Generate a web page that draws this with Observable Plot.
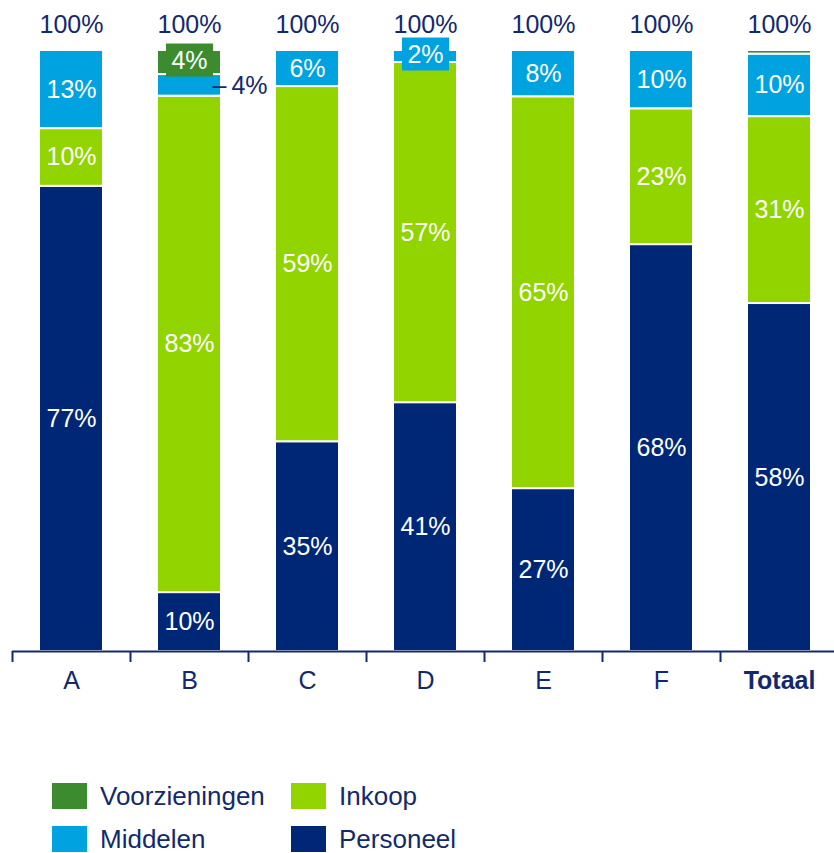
<!DOCTYPE html>
<html><head><meta charset="utf-8">
<script src="https://cdn.jsdelivr.net/npm/d3@7"></script>
<script src="https://cdn.jsdelivr.net/npm/@observablehq/plot@0.6"></script>
<style>
body{margin:0;background:#fff;font-family:"Liberation Sans",Arial,sans-serif;overflow:hidden}
#chart{position:relative;width:834px;height:853px;overflow:hidden}
.lg{position:absolute;display:flex;align-items:center;font-size:26px;line-height:26px;color:#12296e;white-space:nowrap}
.sw{display:inline-block;width:35px;height:26px;margin-right:13px}
</style></head><body><div id="chart"></div>
<script>
const categories = ["A","B","C","D","E","F","Totaal"];
const series = ["Personeel","Inkoop","Middelen","Voorzieningen"];
const personeel = [77.4, 9.8, 34.9, 41.4, 27.1, 67.7, 57.9];
const inkoop = [9.6, 82.6, 59.1, 56.6, 65.2, 22.6, 31.1];
const middelen = [13.0, 3.6, 6.0, 2.0, 7.7, 9.7, 10.4];
const voorzieningen = [0, 4.0, 0, 0, 0, 0, 0.6];
const totalLabels = ["100%","100%","100%","100%","100%","100%","100%"];
const totals = [100,100,100,100,100,100,100];
const colors = ["#002776","#92d400","#00a3e0","#3d8b2f"];
const legendOrder = ["Voorzieningen","Inkoop","Middelen","Personeel"];

const navy = "#12296e";
const byName = {Personeel: personeel, Inkoop: inkoop, Middelen: middelen, Voorzieningen: voorzieningen};
const rows = [];
categories.forEach((c, i) => series.forEach(s => rows.push({category: c, series: s, value: byName[s][i]})));
const key = d => d.category + "|" + d.series;
const boxed = new Set(["B|Voorzieningen", "D|Middelen"]);
const outside = new Set(["B|Middelen"]);
const pct = d => Math.round(d.value) + "%";
const stack = o => Plot.stackY({x: "category", y: "value", z: "series", order: series, ...o});
const tops = categories.map((c, i) => ({category: c, total: totals[i], label: totalLabels[i]}));
const step = (838 - 12) / categories.length;

const plot = Plot.plot({
  width: 834,
  height: 730,
  marginTop: 50,
  marginBottom: 79,
  marginLeft: 12,
  marginRight: 0,
  style: {fontFamily: "Liberation Sans, Arial, sans-serif", background: "white"},
  x: {domain: categories, range: [12, 838], paddingInner: 0.46, paddingOuter: 0.23, axis: null},
  y: {domain: [0, 100], axis: null},
  color: {domain: series, range: colors},
  marks: [
    Plot.barY(rows, stack({fill: "series", stroke: "white", strokeWidth: 2})),
    Plot.text(rows, stack({text: d => (d.value >= 5 && !boxed.has(key(d)) && !outside.has(key(d))) ? pct(d) : null, fill: "white", fontSize: 25})),
    Plot.text(rows, stack({text: d => boxed.has(key(d)) ? pct(d) : null, fill: "series", fontSize: 25, dy: -1.5, ariaDescription: "boxed"})),
    Plot.text(rows, stack({text: d => outside.has(key(d)) ? "\u2013\u2009" + pct(d) : null, fill: navy, fontSize: 25, textAnchor: "start", dx: 23, dy: 1})),
    Plot.text(tops, {x: "category", y: "total", text: "label", fill: navy, fontSize: 25, dy: -26}),
    Plot.ruleY([0], {stroke: navy, strokeWidth: 2}),
    Plot.ruleX(categories, {x: d => d, y1: 0, y2: 0, insetBottom: -11, dx: -step / 2, stroke: navy, strokeWidth: 2}),
    Plot.text(categories, {x: d => d, filter: d => d !== "Totaal", frameAnchor: "bottom", dy: 37, fill: navy, fontSize: 25}),
    Plot.text(categories, {x: d => d, filter: d => d === "Totaal", frameAnchor: "bottom", dy: 37, fill: navy, fontSize: 25, fontWeight: "bold"})
  ]
});
const chart = document.getElementById("chart");
chart.append(plot);
plot.querySelectorAll('g[aria-description="boxed"] text').forEach(t => {
  const b = t.getBBox();
  const r = document.createElementNS("http://www.w3.org/2000/svg", "rect");
  r.setAttribute("x", b.x - 5.5);
  r.setAttribute("y", b.y - 2.5);
  r.setAttribute("width", b.width + 11);
  r.setAttribute("height", b.height + 5);
  if (t.getAttribute("transform")) r.setAttribute("transform", t.getAttribute("transform"));
  r.setAttribute("fill", t.getAttribute("fill"));
  t.setAttribute("fill", "white");
  t.parentNode.insertBefore(r, t);
});
const legendPos = [[52, 783], [291, 783], [52, 826], [291, 826]];
legendOrder.forEach((s, i) => {
  const div = document.createElement("div");
  div.className = "lg";
  div.style.left = legendPos[i][0] + "px";
  div.style.top = legendPos[i][1] + "px";
  const sw = document.createElement("span");
  sw.className = "sw";
  sw.style.background = colors[series.indexOf(s)];
  div.append(sw, document.createTextNode(s));
  chart.append(div);
});
</script></body></html>
